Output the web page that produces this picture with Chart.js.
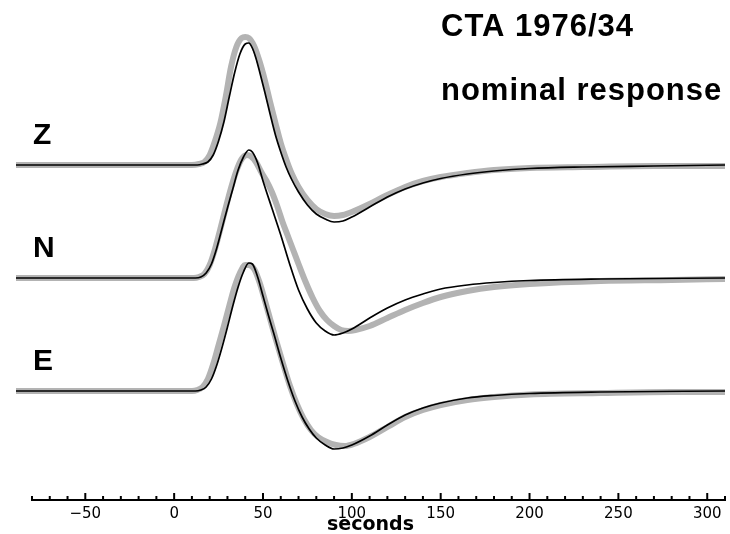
<!DOCTYPE html>
<html>
<head>
<meta charset="utf-8">
<script src="https://cdn.jsdelivr.net/npm/chart.js@4"></script>
<style>
  body { margin: 0; background: #fff; }
  #wrap { width: 730px; height: 534px; }
</style>
</head>
<body>
<div id="wrap"><canvas id="chart"></canvas></div>
<script>
// time (seconds) and amplitude (counts), per component
// gray = recorded data, black = nominal response
const zDataT = [-89, 10, 14, 17, 20, 23, 26, 29, 32, 35, 38, 40, 42, 45, 48, 51, 54, 57, 60, 63, 66, 70, 75, 80, 85, 90, 95, 100, 110, 120, 130, 140, 150, 165, 180, 200, 230, 270, 310];
const zDataA = [0, 0, 1, 3, 10, 24, 42, 68, 98, 118, 127, 128, 127, 119, 104, 85, 63, 42, 22, 6, -8, -22, -35, -44, -49, -51, -50, -47, -39, -30, -22, -16, -12, -8, -5, -3, -2, -1, -1];
const zSynT = [-89, 13, 16, 19, 22, 25, 28, 31, 34, 37, 40, 42, 44, 46, 48, 51, 54, 57, 60, 63, 66, 70, 75, 80, 85, 90, 95, 100, 110, 120, 130, 140, 150, 165, 180, 200, 230, 270, 310];
const zSynA = [0, 0, 1, 3, 10, 24, 43, 68, 92, 111, 121, 122, 117, 107, 94, 73, 51, 30, 13, -2, -14, -27, -40, -49, -54, -57, -56, -52, -42, -32, -24, -18, -13.5, -9, -6, -3.5, -2, -1, 0];

const nDataT = [-89, 11, 14, 17, 20, 23, 26, 29, 32, 35, 38, 41, 43, 46, 49, 52, 55, 58, 61, 64, 67, 70, 74, 78, 82, 86, 90, 94, 98, 102, 110, 120, 130, 140, 150, 165, 180, 200, 240, 280, 310];
const nDataA = [0, 0, 1, 4, 13, 29, 49, 70, 90, 107, 119, 123, 122, 116, 106, 97, 86, 72, 56, 42, 28, 14, -4, -20, -33, -42, -48, -52, -53, -52, -48, -40, -32, -25, -19, -13, -9, -6, -3, -2, -1];
const nSynT = [-89, 12, 15, 18, 21, 24, 27, 30, 33, 36, 39, 42, 44, 47, 50, 55, 60, 65, 70, 75, 80, 85, 90, 95, 100, 110, 120, 130, 140, 150, 165, 180, 200, 240, 310];
const nSynA = [0, 0, 1, 5, 14, 30, 50, 70, 89, 108, 121, 128, 126, 115, 97, 70, 43, 14, -12, -31, -45, -53, -57, -55, -51, -40, -30, -22, -16, -11, -7, -4.5, -2.5, -1, 0];

const eDataT = [-89, 10, 13, 16, 19, 22, 25, 28, 31, 34, 37, 40, 42, 45, 48, 51, 54, 57, 61, 65, 69, 73, 77, 81, 86, 91, 96, 101, 110, 120, 130, 140, 150, 165, 180, 200, 240, 280, 310];
const eDataA = [0, 0, 1, 4, 12, 27, 46, 65, 85, 104, 118, 126, 126, 122, 109, 91, 72, 53, 29, 6, -13, -28, -39, -46, -51, -54, -55, -53, -46, -36, -26, -19, -14, -9, -6, -3.5, -2, -1, -1];
const eSynT = [-89, 12, 15, 18, 21, 24, 27, 30, 33, 36, 39, 42, 44, 47, 50, 53, 56, 60, 64, 68, 72, 76, 80, 85, 90, 95, 100, 110, 120, 130, 140, 150, 165, 180, 200, 240, 310];
const eSynA = [0, 0, 1, 4, 12, 26, 44, 64, 85, 104, 119, 128, 127, 114, 95, 76, 58, 33, 10, -10, -26, -38, -47, -54, -58, -57, -54, -45, -34, -24, -17, -12, -7, -4.5, -2.5, -1, 0];

const traceNames = ['Z', 'N', 'E'];
const traceOffsets = [226, 113, 0];   // vertical shift of each trace
const titleLines = ['CTA 1976/34', 'nominal response'];

function toPoints(times, amps, offset) {
    return times.map((t, i) => ({ x: t, y: amps[i] + offset }));
}

const gray = '#b3b3b3';
const traces = [
    [zDataT, zDataA, zSynT, zSynA],
    [nDataT, nDataA, nSynT, nSynA],
    [eDataT, eDataA, eSynT, eSynA]
];

const datasets = [];
traces.forEach((tr, i) => {
    datasets.push({
        label: traceNames[i] + ' data',
        data: toPoints(tr[0], tr[1], traceOffsets[i]),
        borderColor: gray,
        borderWidth: 6,
        order: 2
    });
    datasets.push({
        label: traceNames[i] + ' nominal',
        data: toPoints(tr[2], tr[3], traceOffsets[i]),
        borderColor: '#000',
        borderWidth: 1.7,
        order: 1
    });
});

// axis line with upward ticks, trace names and header
const decorations = {
    id: 'decorations',
    afterDraw(chart) {
        const { ctx, scales: { x, y } } = chart;
        ctx.save();
        const base = x.top;
        const first = x.getPixelForValue(x.ticks[0].value);
        const last = x.getPixelForValue(x.ticks[x.ticks.length - 1].value);
        ctx.strokeStyle = '#000';
        ctx.lineWidth = 2;
        ctx.beginPath();
        ctx.moveTo(first - 1, base);
        ctx.lineTo(last + 1, base);
        x.ticks.forEach(t => {
            const px = x.getPixelForValue(t.value);
            const len = t.value % 50 === 0 ? 7 : 4;
            ctx.moveTo(px, base);
            ctx.lineTo(px, base - len);
        });
        ctx.stroke();

        ctx.fillStyle = '#000';
        ctx.font = 'bold 30px "Liberation Sans", Arial, sans-serif';
        traceNames.forEach((name, i) => {
            ctx.fillText(name, 33, y.getPixelForValue(traceOffsets[i]) - 21);
        });

        ctx.font = 'bold 31px "Liberation Sans", Arial, sans-serif';
        ctx.letterSpacing = '1px';
        ctx.fillText(titleLines[0], 441, 36);
        ctx.fillText(titleLines[1], 441, 100);
        ctx.restore();
    }
};

new Chart(document.getElementById('chart'), {
    type: 'line',
    data: { datasets: datasets },
    options: {
        responsive: true,
        maintainAspectRatio: false,
        animation: false,
        layout: { padding: { left: 16, right: 2, top: 0, bottom: 0 } },
        elements: {
            point: { radius: 0 },
            line: { cubicInterpolationMode: 'monotone', fill: false }
        },
        plugins: { legend: { display: false }, tooltip: { enabled: false } },
        scales: {
            x: {
                type: 'linear',
                min: -89,
                max: 310,
                afterFit: scale => { scale.height = 34; },
                grid: { display: false, drawTicks: false },
                border: { display: false },
                ticks: {
                    stepSize: 10,
                    includeBounds: false,
                    autoSkip: false,
                    maxRotation: 0,
                    padding: 5,
                    color: '#000',
                    font: { family: 'DejaVu Sans', size: 15 },
                    callback: v => v % 50 === 0 ? (v < 0 ? '\u2212' + Math.abs(v) : String(v)) : ''
                },
                title: {
                    display: true,
                    text: 'seconds',
                    color: '#000',
                    font: { family: 'DejaVu Sans', size: 19, weight: 'bold' },
                    padding: { top: 0, bottom: -2 }
                }
            },
            y: {
                display: false,
                min: -109,
                max: 391
            }
        }
    },
    plugins: [decorations]
});
</script>
</body>
</html>
